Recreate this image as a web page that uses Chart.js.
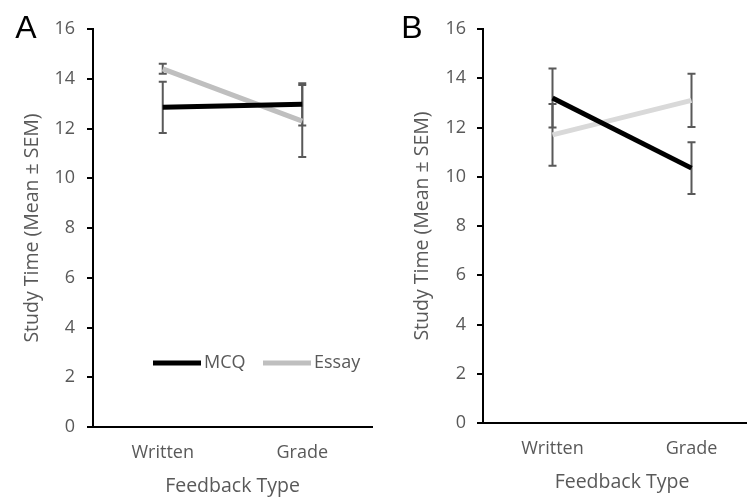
<!DOCTYPE html>
<html><head><meta charset="utf-8">
<script src="https://cdn.jsdelivr.net/npm/chart.js@4.4.1/dist/chart.umd.min.js"></script>
<style>
html,body{margin:0;padding:0;background:#fff;overflow:hidden;width:747px;height:498px;position:relative;}
#wa{position:absolute;left:0;top:0;width:373px;height:498px;}
#wb{position:absolute;left:373px;top:0;width:400px;height:498px;}
</style></head><body>
<div id="wa"><canvas id="ca" width="373" height="498"></canvas></div>
<div id="wb"><canvas id="cb" width="400" height="498"></canvas></div>
<script>
// ---- data ----
const categories = ['Written', 'Grade'];
const yTicks = [0, 2, 4, 6, 8, 10, 12, 14, 16];
const seriesNames = ['MCQ', 'Essay'];
// Panel A
const mcqA = [12.85, 12.97];
const mcqA_sem = [1.03, 0.85];
const essayA = [14.4, 12.3];
const essayA_sem = [0.2, 1.45];
// Panel B
const mcqB = [13.2, 10.35];
const mcqB_sem = [1.2, 1.05];
const essayB = [11.7, 13.1];
const essayB_sem = [1.25, 1.08];

const TXT = '#595959';
const FONT = 'Open Sans';

const errorBars = {
  id: 'errorBars',
  beforeDatasetsDraw(chart) {
    const ctx = chart.ctx, ys = chart.scales.y;
    ctx.save();
    ctx.strokeStyle = '#595959';
    ctx.lineWidth = 2;
    chart.data.datasets.forEach((ds, i) => {
      const meta = chart.getDatasetMeta(i);
      meta.data.forEach((pt, j) => {
        const v = ds.data[j], e = ds.sem[j];
        const x = pt.x, y1 = ys.getPixelForValue(v + e), y2 = ys.getPixelForValue(v - e);
        ctx.beginPath();
        ctx.moveTo(x, y1); ctx.lineTo(x, y2);
        ctx.moveTo(x - 4, y1); ctx.lineTo(x + 4, y1);
        ctx.moveTo(x - 4, y2); ctx.lineTo(x + 4, y2);
        ctx.stroke();
      });
    });
    ctx.restore();
  }
};

const extras = {
  id: 'extras',
  afterDraw(chart, args, opts) {
    const ctx = chart.ctx;
    ctx.save();
    ctx.fillStyle = '#000';
    ctx.font = '32px "Liberation Sans", Arial, sans-serif';
    ctx.textAlign = 'center';
    ctx.textBaseline = 'alphabetic';
    ctx.fillText(opts.letter, opts.letterX, 38);
    if (opts.legend) {
      const ly = opts.legendY;
      let x = opts.legendX;
      ctx.font = '18px "' + FONT + '"';
      ctx.textAlign = 'left';
      ctx.textBaseline = 'middle';
      chart.data.datasets.forEach((ds) => {
        ctx.strokeStyle = ds.borderColor;
        ctx.lineWidth = 5;
        ctx.beginPath();
        ctx.moveTo(x, ly); ctx.lineTo(x + 48, ly);
        ctx.stroke();
        ctx.fillStyle = TXT;
        ctx.fillText(ds.label, x + 51, ly);
        x += 110;
      });
    }
    ctx.restore();
  }
};

function makeChart(id, mcq, mcqSem, essay, essaySem, essayColor, cfg) {
  return new Chart(document.getElementById(id), {
    type: 'line',
    data: {
      labels: categories,
      datasets: [
        { label: seriesNames[0], data: mcq, sem: mcqSem, borderColor: '#000000', borderWidth: 5, pointRadius: 0, tension: 0, fill: false },
        { label: seriesNames[1], data: essay, sem: essaySem, borderColor: essayColor, borderWidth: 5, pointRadius: 0, tension: 0, fill: false }
      ]
    },
    options: {
      responsive: false,
      animation: false,
      layout: { padding: { left: 0, right: cfg.padRight, top: 29, bottom: 0 } },
      plugins: {
        legend: { display: false },
        tooltip: { enabled: false },
        extras: cfg.extras
      },
      scales: {
        x: {
          type: 'category',
          offset: true,
          grid: { display: false, drawTicks: false },
          border: { display: true, color: '#000', width: 2 },
          ticks: { color: TXT, font: { family: FONT, size: 18 }, padding: 15 },
          title: { display: true, text: 'Feedback Type', color: TXT, font: { family: FONT, size: 19.5 }, padding: { top: 0, bottom: cfg.xTitlePad } },
          afterFit: (s) => { s.height = cfg.xHeight; }
        },
        y: {
          min: 0, max: 16,
          afterBuildTicks: (s) => { s.ticks = yTicks.map(v => ({ value: v })); },
          ticks: { color: TXT, font: { family: FONT, size: 18 }, padding: cfg.yTickPad },
          grid: { drawOnChartArea: false, drawTicks: true, tickLength: 6, color: '#000', lineWidth: 2 },
          border: { display: true, color: '#000', width: 2 },
          title: { display: true, text: 'Study Time (Mean ± SEM)', color: TXT, font: { family: FONT, size: 19.5 }, padding: { top: cfg.yTitlePad, bottom: 0 } },
          afterFit: (s) => { s.width = cfg.yWidth; }
        }
      }
    },
    plugins: [errorBars, extras]
  });
}

makeChart('ca', mcqA, mcqA_sem, essayA, essayA_sem, '#bfbfbf', {
  padRight: 1, xHeight: 71, xTitlePad: 0, yTickPad: 12, yTitlePad: 21, yWidth: 93,
  extras: { letter: 'A', letterX: 26, legend: true, legendX: 153, legendY: 363 }
});
makeChart('cb', mcqB, mcqB_sem, essayB, essayB_sem, '#d9d9d9', {
  padRight: 12, xHeight: 75, xTitlePad: 4, yTickPad: 11, yTitlePad: 38, yWidth: 110,
  extras: { letter: 'B', letterX: 39, legend: false }
});
</script>
</body></html>
